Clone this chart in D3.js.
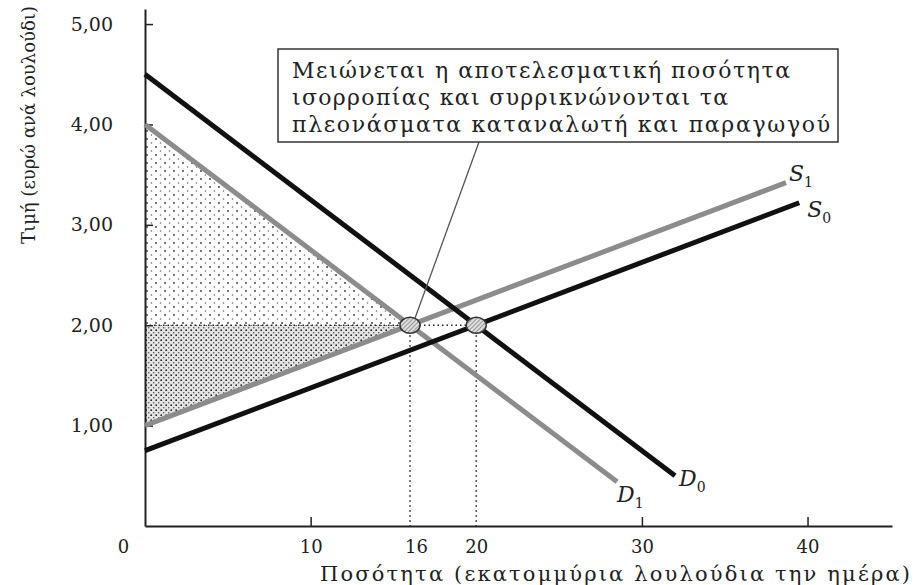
<!DOCTYPE html>
<html>
<head>
<meta charset="utf-8">
<script src="https://cdn.jsdelivr.net/npm/d3@7"></script>
<style>
body { margin: 0; background: #fff; }
text { font-family: "DejaVu Serif", "Liberation Serif", serif; fill: #222; }
.tick text { font-size: 18px; }
</style>
</head>
<body>
<div id="chart"></div>
<script>
var svgWidth = 917;
var svgHeight = 585;

var margin = { top: 9, right: 25, bottom: 59, left: 145 };
var width = svgWidth - margin.left - margin.right;
var height = svgHeight - margin.top - margin.bottom;

// values
var d0Line = [[0, 4.5], [32, 0.5]];
var d1Line = [[0, 4.0], [28.5, 0.44]];
var s0Line = [[0, 0.75], [39.5, 3.22]];
var s1Line = [[0, 1.0], [38.7, 3.42]];
var equilibria = [[16, 2], [20, 2]];
var priceTicks = [1, 2, 3, 4, 5];
var qtyTicks = [0, 10, 16, 20, 30, 40];
var noteLines = [
	"Μειώνεται η αποτελεσματική ποσότητα",
	"ισορροπίας και συρρικνώνονται τα",
	"πλεονάσματα καταναλωτή και παραγωγού"
];
var noteWidths = [498, 436, 538];

var svg = d3.select("#chart").append("svg").attr("width", svgWidth).attr("height", svgHeight);

var defs = svg.append("defs");
var pc = defs.append("pattern").attr("id", "consDots").attr("patternUnits", "userSpaceOnUse")
	.attr("width", 9).attr("height", 8);
pc.append("circle").attr("cx", 2).attr("cy", 2).attr("r", 0.9).attr("fill", "#333");
pc.append("circle").attr("cx", 6.5).attr("cy", 6).attr("r", 0.8).attr("fill", "#666");

var pp = defs.append("pattern").attr("id", "prodDots").attr("patternUnits", "userSpaceOnUse")
	.attr("width", 5).attr("height", 5);
pp.append("rect").attr("width", 5).attr("height", 5).attr("fill", "#e4e4e4");
pp.append("circle").attr("cx", 1.2).attr("cy", 1.2).attr("r", 0.9).attr("fill", "#222");
pp.append("circle").attr("cx", 3.7).attr("cy", 3.7).attr("r", 0.8).attr("fill", "#555");

var eqPat = defs.append("pattern").attr("id", "eqHatch").attr("patternUnits", "userSpaceOnUse")
	.attr("width", 3).attr("height", 3).attr("patternTransform", "rotate(45)");
eqPat.append("rect").attr("width", 3).attr("height", 3).attr("fill", "#ddd");
eqPat.append("line").attr("x1", 0).attr("y1", 0).attr("x2", 0).attr("y2", 3).attr("stroke", "#666").attr("stroke-width", 1.2);

var chartGroup = svg.append("g").attr("transform", `translate(${margin.left}, ${margin.top})`);

var x = d3.scaleLinear().domain([0, 45.1]).range([0, width]);
var y = d3.scaleLinear().domain([0, 5.15]).range([height, 0]);

var line = d3.line().x(d => x(d[0])).y(d => y(d[1]));

// surplus areas
var eq = equilibria[0];
var d1At = q => d1Line[0][1] + (d1Line[1][1] - d1Line[0][1]) / (d1Line[1][0] - d1Line[0][0]) * q;
var s1At = q => s1Line[0][1] + (s1Line[1][1] - s1Line[0][1]) / (s1Line[1][0] - s1Line[0][0]) * q;

chartGroup.append("path").attr("d", line([[0, d1At(0)], [eq[0], eq[1]], [0, eq[1]]]) + "Z")
	.attr("fill", "url(#consDots)");
chartGroup.append("path").attr("d", line([[0, eq[1]], [eq[0], eq[1]], [0, s1At(0)]]) + "Z")
	.attr("fill", "url(#prodDots)");

// dotted guides
chartGroup.append("path").attr("d", line([[0, 2], [equilibria[1][0], 2]]))
	.attr("stroke", "#222").attr("stroke-width", 1.6).attr("stroke-dasharray", "1.5,3").attr("fill", "none");
equilibria.forEach(function(e) {
	chartGroup.append("path").attr("d", line([[e[0], e[1]], [e[0], 0]]))
		.attr("stroke", "#222").attr("stroke-width", 1.6).attr("stroke-dasharray", "1.5,3.5").attr("fill", "none");
});

// axes
var leftAxis = d3.axisLeft(y).tickValues(priceTicks).tickSizeInner(-8).tickSizeOuter(0).tickPadding(32)
	.tickFormat(d => d3.format(".2f")(d).replace(".", ","));
var gy = chartGroup.append("g").call(leftAxis);
gy.select(".domain").attr("stroke", "#222").attr("stroke-width", 2);
gy.selectAll(".tick line").attr("stroke", "#222").attr("stroke-width", 1.5);
gy.selectAll(".tick text").style("font-size", "19px");

var bottomAxis = d3.axisBottom(x).tickValues(qtyTicks).tickSizeInner(-9).tickSizeOuter(0).tickPadding(14)
	.tickFormat(d3.format("d"));
var gx = chartGroup.append("g").attr("transform", `translate(0, ${height})`).call(bottomAxis);
gx.select(".domain").attr("stroke", "#222").attr("stroke-width", 2);
gx.selectAll(".tick line").attr("stroke", "#222").attr("stroke-width", 1.5)
	.attr("display", d => (d === 0 || d === 16 || d === 20) ? "none" : null);
gx.selectAll(".tick text").attr("dx", d => d === 0 ? -22 : (d === 16 ? 6 : 0));

// curves
chartGroup.append("path").attr("d", line(s1Line)).attr("stroke", "#8c8c8c").attr("stroke-width", 5).attr("fill", "none");
chartGroup.append("path").attr("d", line(d1Line)).attr("stroke", "#8c8c8c").attr("stroke-width", 5).attr("fill", "none");
chartGroup.append("path").attr("d", line(s0Line)).attr("stroke", "#111").attr("stroke-width", 5).attr("fill", "none");
chartGroup.append("path").attr("d", line(d0Line)).attr("stroke", "#111").attr("stroke-width", 5).attr("fill", "none");

// equilibrium markers
chartGroup.selectAll(".eq").data(equilibria).enter().append("ellipse").attr("class", "eq")
	.attr("cx", d => x(d[0])).attr("cy", d => y(d[1])).attr("rx", 10).attr("ry", 8)
	.attr("fill", "url(#eqHatch)").attr("stroke", "#333").attr("stroke-width", 1.5);

// curve labels
function curveLabel(name, sub, q, p, dx, dy) {
	var t = chartGroup.append("text").attr("x", x(q) + dx).attr("y", y(p) + dy)
		.style("font-size", "22px").style("font-style", "italic");
	t.append("tspan").text(name);
	t.append("tspan").attr("dy", 6).style("font-size", "14px").style("font-style", "normal").text(sub);
}
curveLabel("S", "1", s1Line[1][0], s1Line[1][1], 3, -2);
curveLabel("S", "0", s0Line[1][0], s0Line[1][1], 8, 14);
curveLabel("D", "0", d0Line[1][0], d0Line[1][1], 4, 10);
curveLabel("D", "1", d1Line[1][0], d1Line[1][1], 0, 20);

// annotation box
var box = { x: 278, y: 49, w: 560, h: 93 };
var note = svg.append("g");
note.append("line").attr("x1", 479).attr("y1", box.y + box.h)
	.attr("x2", x(equilibria[0][0]) + margin.left + 5).attr("y2", y(2) + margin.top - 7)
	.attr("stroke", "#555").attr("stroke-width", 1.3);
note.append("rect").attr("x", box.x).attr("y", box.y).attr("width", box.w).attr("height", box.h)
	.attr("fill", "#fff").attr("stroke", "#333").attr("stroke-width", 1.5);
note.selectAll(".noteText").data(noteLines).enter().append("text").attr("class", "noteText")
	.attr("x", box.x + 14).attr("y", (d, i) => 78 + i * 27)
	.attr("textLength", (d, i) => noteWidths[i]).attr("lengthAdjust", "spacing")
	.style("font-size", "22px").text(d => d);

// axis titles
svg.append("text").attr("transform", "translate(35, 125) rotate(-90)")
	.attr("text-anchor", "middle").style("font-size", "18px").text("Τιμή (ευρώ ανά λουλούδι)");
svg.append("text").attr("x", 320).attr("y", 581)
	.attr("textLength", 590).attr("lengthAdjust", "spacing")
	.style("font-size", "21px").text("Ποσότητα (εκατομμύρια λουλούδια την ημέρα)");
</script>
</body>
</html>
